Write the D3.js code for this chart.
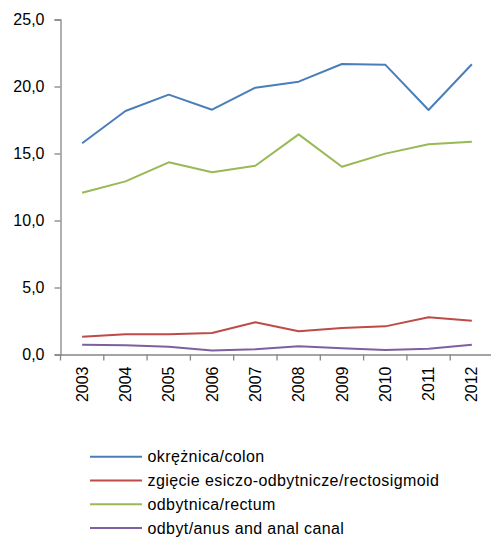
<!DOCTYPE html>
<html><head><meta charset="utf-8">
<script src="https://cdn.jsdelivr.net/npm/d3@7"></script>
<style>body{margin:0;background:#fff}svg{display:block}text{font-family:"Liberation Sans",Arial,sans-serif;fill:#000}</style>
</head><body>
<script>
const years = ["2003","2004","2005","2006","2007","2008","2009","2010","2011","2012"];
const colon = [15.76,18.17,19.39,18.27,19.91,20.36,21.68,21.63,18.25,21.66];
const rectosigmoid = [1.33,1.51,1.51,1.6,2.4,1.73,1.98,2.1,2.78,2.52];
const rectum = [12.07,12.92,14.34,13.6,14.09,16.43,14.01,14.99,15.69,15.88];
const anus = [0.73,0.69,0.58,0.29,0.39,0.61,0.46,0.34,0.43,0.73];
const seriesNames = ["okrężnica/colon","zgięcie esiczo-odbytnicze/rectosigmoid","odbytnica/rectum","odbyt/anus and anal canal"];
const seriesColors = ["#4a7ebb","#be4b48","#98b954","#7d60a0"];
const yTicks = [0,5,10,15,20,25];

const W=491,H=537;
const svg=d3.select("body").append("svg").attr("width",W).attr("height",H);
const x=d3.scaleBand().domain(years).range([60.5,493.5]);
const y=d3.scaleLinear().domain([0,25]).range([354.5,19.5]);
const fmt=d=>d3.format(".1f")(d).replace(".",",");

// y axis
const ya=svg.append("g").attr("transform","translate(60.5,0)")
  .call(d3.axisLeft(y).tickValues(yTicks).tickFormat(fmt).tickSize(6).tickPadding(10));
ya.select(".domain").attr("stroke","#868686").attr("stroke-width",1.3);
ya.selectAll(".tick line").attr("stroke","#868686").attr("stroke-width",1.3);
ya.selectAll(".tick text").style("font-size","16px").attr("fill","#000");

// x axis
const xa=svg.append("g").attr("transform","translate(0,354.5)")
  .call(d3.axisBottom(x).tickSize(0).tickSizeOuter(0));
xa.select(".domain").attr("stroke","#868686").attr("stroke-width",1.3);
xa.selectAll(".tick line").remove();
xa.selectAll(".tick text")
  .style("font-size","16px").attr("fill","#000")
  .attr("transform","rotate(-90)").attr("text-anchor","end")
  .attr("x",-12).attr("y",0).attr("dy","0.35em");
// boundary ticks
const bounds=years.map(d=>x(d)).concat([x.range()[1]]);
svg.append("g").selectAll("line").data(bounds).join("line")
  .attr("x1",d=>d).attr("x2",d=>d).attr("y1",354.5).attr("y2",360.5)
  .attr("stroke","#868686").attr("stroke-width",1.3);

const line=d3.line().x((d,i)=>x(years[i])+x.bandwidth()/2).y(d=>y(d));
const all=[colon,rectosigmoid,rectum,anus];
svg.append("g").selectAll("path").data(all).join("path")
  .attr("d",line).attr("fill","none")
  .attr("stroke",(d,i)=>seriesColors[i]).attr("stroke-width",2).attr("stroke-linejoin","round");

// legend
const lg=svg.append("g").selectAll("g").data(seriesNames).join("g")
  .attr("transform",(d,i)=>`translate(0,${456.7+i*23.8})`);
lg.append("line").attr("x1",90).attr("x2",142).attr("y1",0).attr("y2",0)
  .attr("stroke",(d,i)=>seriesColors[i]).attr("stroke-width",2);
lg.append("text").attr("x",147.5).attr("dy","0.35em").style("font-size","16px")
  .style("letter-spacing","0.4px").text(d=>d);
</script>
</body></html>
